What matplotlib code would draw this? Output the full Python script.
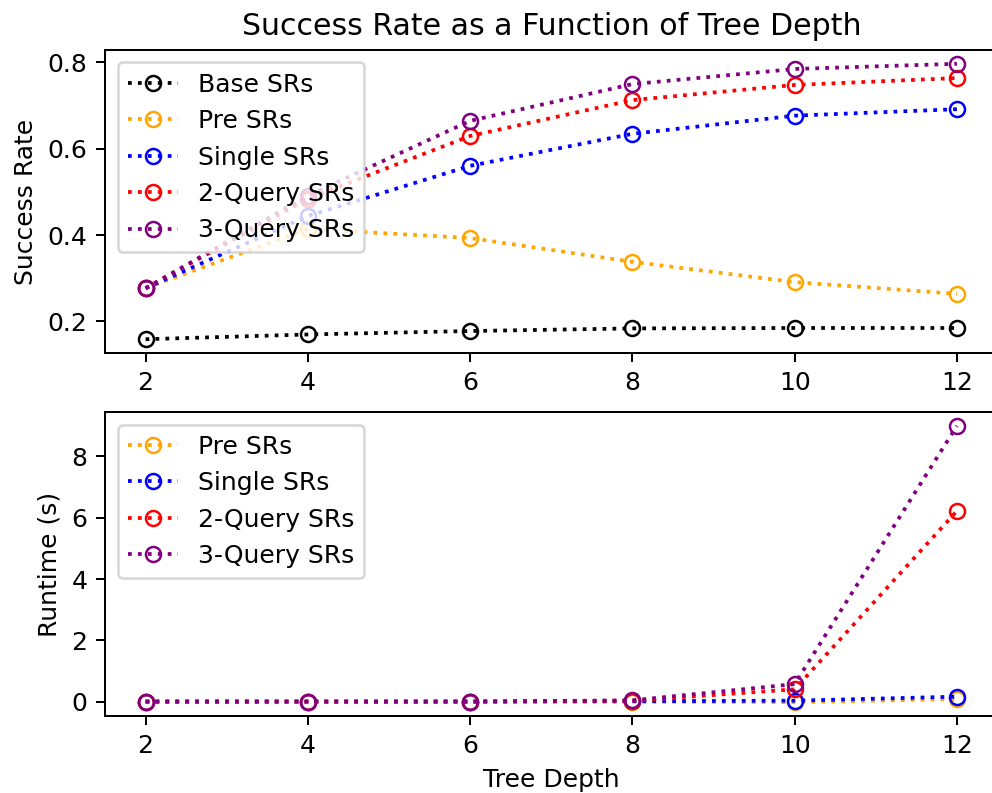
import numpy as np
import matplotlib
matplotlib.use("Agg")
import matplotlib.pyplot as plt

# tree depths on the x axis
depths = [2, 4, 6, 8, 10, 12]

# success rates (top panel)
base_sr = [0.159, 0.170, 0.178, 0.184, 0.185, 0.185]
pre_sr = [0.277, 0.414, 0.393, 0.338, 0.291, 0.264]
single_sr = [0.277, 0.444, 0.560, 0.634, 0.676, 0.691]
q2_sr = [0.277, 0.484, 0.629, 0.712, 0.747, 0.763]
q3_sr = [0.277, 0.491, 0.664, 0.749, 0.784, 0.796]

# runtimes in seconds (bottom panel)
pre_rt = [0.0, 0.0, 0.0, 0.0, -0.02, 0.08]
single_rt = [0.0, 0.0, 0.0, 0.01, 0.03, 0.16]
q2_rt = [0.0, 0.0, 0.0, 0.03, 0.40, 6.22]
q3_rt = [0.0, 0.0, 0.0, 0.04, 0.57, 9.0]

W, H = 992, 793
DPI = 180
fig = plt.figure(figsize=(W / DPI, H / DPI), dpi=DPI)
ax1 = fig.add_axes([105 / W, 1 - 353 / H, (997.5 - 105) / W, (353 - 50) / H])
ax2 = fig.add_axes([105 / W, 1 - 716 / H, (997.5 - 105) / W, (716 - 412) / H])

style = dict(ls=":", marker="o", mfc="none")

ax1.plot(depths, base_sr, color="black", label="Base SRs", **style)
ax1.plot(depths, pre_sr, color="orange", label="Pre SRs", **style)
ax1.plot(depths, single_sr, color="blue", label="Single SRs", **style)
ax1.plot(depths, q2_sr, color="red", label="2-Query SRs", **style)
ax1.plot(depths, q3_sr, color="purple", label="3-Query SRs", **style)
ax1.set_title("Success Rate as a Function of Tree Depth")
ax1.set_ylabel("Success Rate")
ax1.set_xticks(depths)
ax1.legend(loc="upper left")

ax2.plot(depths, pre_rt, color="orange", label="Pre SRs", **style)
ax2.plot(depths, single_rt, color="blue", label="Single SRs", **style)
ax2.plot(depths, q2_rt, color="red", label="2-Query SRs", **style)
ax2.plot(depths, q3_rt, color="purple", label="3-Query SRs", **style)
ax2.set_xlabel("Tree Depth")
ax2.set_ylabel("Runtime (s)")
ax2.set_xticks(depths)
ax2.legend(loc="upper left")

fig.savefig("out.png", dpi=DPI)
